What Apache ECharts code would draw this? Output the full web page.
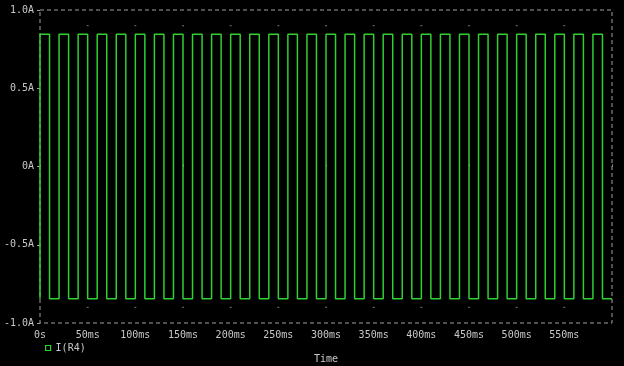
<!DOCTYPE html>
<html>
<head>
<meta charset="utf-8">
<script src="https://cdn.jsdelivr.net/npm/echarts@6/dist/echarts.min.js"></script>
<style>
html,body{margin:0;padding:0;background:#000;}
#chart{width:624px;height:366px;}
</style>
</head>
<body>
<div id="chart"></div>
<script>
// Transition times (ms) of the I(R4) trace and its level (A) after each point
var times = [0, 0, 10, 20, 30, 40, 50, 60, 70, 80, 90, 100, 110, 120, 130, 140, 150, 160, 170, 180, 190,
  200, 210, 220, 230, 240, 250, 260, 270, 280, 290, 300, 310, 320, 330, 340, 350, 360, 370, 380, 390,
  400, 410, 420, 430, 440, 450, 460, 470, 480, 490, 500, 510, 520, 530, 540, 550, 560, 570, 580, 590, 600];
var current = [-0.845, 0.845, -0.845, 0.845, -0.845, 0.845, -0.845, 0.845, -0.845, 0.845, -0.845,
  0.845, -0.845, 0.845, -0.845, 0.845, -0.845, 0.845, -0.845, 0.845, -0.845,
  0.845, -0.845, 0.845, -0.845, 0.845, -0.845, 0.845, -0.845, 0.845, -0.845,
  0.845, -0.845, 0.845, -0.845, 0.845, -0.845, 0.845, -0.845, 0.845, -0.845,
  0.845, -0.845, 0.845, -0.845, 0.845, -0.845, 0.845, -0.845, 0.845, -0.845,
  0.845, -0.845, 0.845, -0.845, 0.845, -0.845, 0.845, -0.845, 0.845, -0.845, -0.845];
var xTickValues = [0, 50, 100, 150, 200, 250, 300, 350, 400, 450, 500, 550];
var xTickLabels = ['0s', '50ms', '100ms', '150ms', '200ms', '250ms', '300ms', '350ms', '400ms', '450ms', '500ms', '550ms'];
var yTickValues = [-1, -0.5, 0, 0.5, 1];
var yTickLabels = ['-1.0A', '-0.5A', '0A', '0.5A', '1.0A'];
var gridDotLevels = [0.9, -0.9];
var seriesName = 'I(R4)';

var traceData = times.map(function (t, i) { return [t, current[i]]; });
var dotData = [];
xTickValues.forEach(function (v) {
  if (v > 0) gridDotLevels.forEach(function (l) { dotData.push([v, l]); });
});

var green = '#2fd02f';
var textColor = '#c8c8c8';
var mono = 'DejaVu Sans Mono';

var chart = echarts.init(document.getElementById('chart'), null, {renderer: 'canvas'});
chart.setOption({
  backgroundColor: '#000000',
  animation: false,
  grid: {
    left: 40, right: 12, top: 10, bottom: 43,
    outerBoundsMode: 'none', containLabel: false,
    show: true, borderColor: '#a0a0a0', borderWidth: 1,
    borderType: [4, 3], backgroundColor: 'transparent'
  },
  legend: {
    left: 40, top: 338,
    itemWidth: 5, itemHeight: 5, itemGap: 6,
    textStyle: {color: textColor, fontFamily: mono, fontSize: 10},
    data: [{name: seriesName, icon: 'rect',
      itemStyle: {color: 'transparent', borderColor: green, borderWidth: 1.2}}]
  },
  xAxis: {
    type: 'value', min: 0, max: 600, interval: 50,
    name: 'Time', nameLocation: 'middle', nameGap: 31,
    nameTextStyle: {color: textColor, fontFamily: mono, fontSize: 10},
    axisLine: {show: false},
    splitLine: {show: false},
    axisTick: {show: true, inside: true, length: 2, lineStyle: {color: '#a0a0a0'}},
    axisLabel: {
      color: textColor, fontFamily: mono, fontSize: 10, margin: 7,
      formatter: function (v) {
        var i = xTickValues.indexOf(v);
        return i >= 0 ? xTickLabels[i] : '';
      }
    }
  },
  yAxis: {
    type: 'value', min: -1, max: 1, interval: 0.5,
    axisLine: {show: false},
    splitLine: {show: false},
    axisTick: {show: true, inside: false, length: 3, lineStyle: {color: '#a0a0a0'}},
    axisLabel: {
      color: textColor, fontFamily: mono, fontSize: 10, margin: 6,
      formatter: function (v) {
        for (var i = 0; i < yTickValues.length; i++) {
          if (Math.abs(yTickValues[i] - v) < 1e-9) return yTickLabels[i];
        }
        return '';
      }
    }
  },
  series: [
    {
      name: 'dots', type: 'scatter', data: dotData, symbol: 'rect', symbolSize: [2, 1],
      itemStyle: {color: '#909090'}, silent: true, z: 1
    },
    {
      name: seriesName, type: 'line', data: traceData, step: 'end',
      showSymbol: false, symbol: 'none',
      lineStyle: {color: green, width: 1.5},
      itemStyle: {color: green}, z: 3
    }
  ]
});
</script>
</body>
</html>
